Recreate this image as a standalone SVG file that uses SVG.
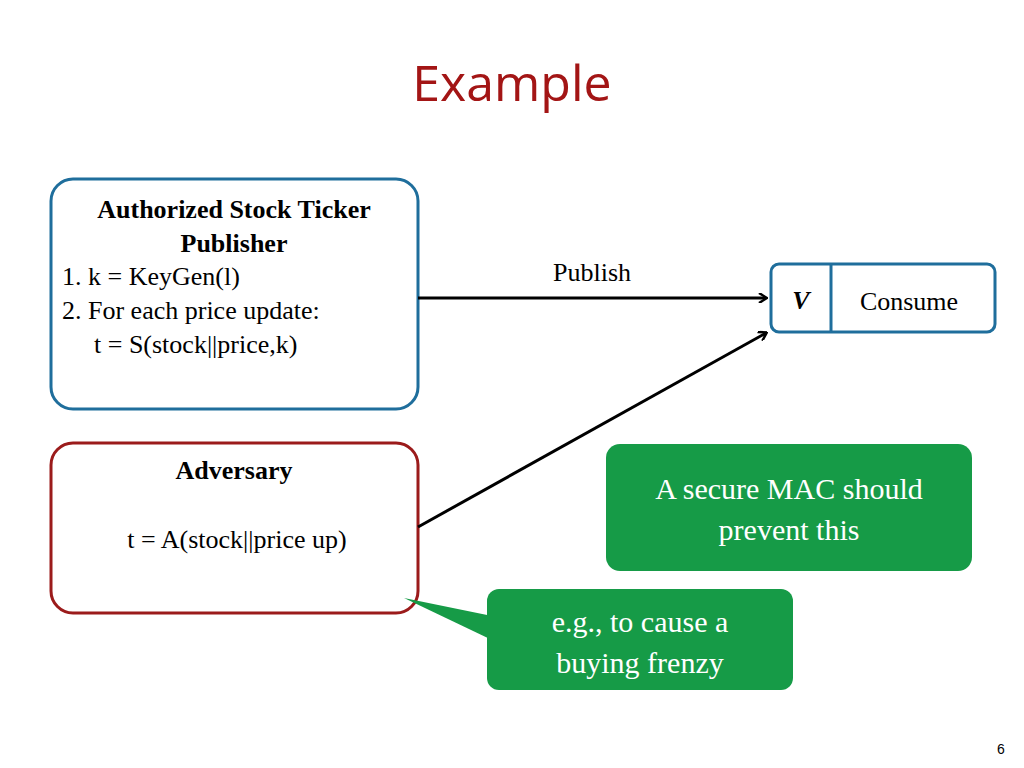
<svg xmlns="http://www.w3.org/2000/svg" width="1024" height="768" viewBox="0 0 1024 768">
<style>
.t{font-family:"Liberation Serif","DejaVu Serif",serif;font-size:26px;fill:#000}
.w{font-family:"Liberation Serif","DejaVu Serif",serif;font-size:30px;fill:#fff}
.b{font-weight:bold}
.c{stroke:#000;stroke-width:3;fill:none}
</style>
<defs><marker id="a" markerWidth="10" markerHeight="10" refX="8" refY="5" orient="auto" markerUnits="userSpaceOnUse"><path d="M1,0 L9,5 L1,10" fill="none" stroke="#000" stroke-width="2.5"/></marker></defs>
<rect width="1024" height="768" fill="#fff"/>
<text x="512" y="101" text-anchor="middle" font-family="Open Sans,Liberation Sans,sans-serif" font-size="50" fill="#a31515">Example</text>
<g id="publisher">
<rect x="51" y="179" width="367" height="230" rx="22" fill="#fff" stroke="#1f6e9c" stroke-width="3"/>
<text class="t b" x="234" y="218" text-anchor="middle">Authorized Stock Ticker</text>
<text class="t b" x="234" y="252" text-anchor="middle">Publisher</text>
<text class="t" x="62" y="285">1. k = KeyGen(l)</text>
<text class="t" x="62" y="319">2. For each price update:</text>
<text class="t" x="94" y="353">t = S(stock||price,k)</text>
</g>
<g id="adversary">
<rect x="51" y="443" width="367" height="170" rx="22" fill="#fff" stroke="#9b1b1b" stroke-width="3"/>
<text class="t b" x="234" y="479" text-anchor="middle">Adversary</text>
<text class="t" x="237" y="548" text-anchor="middle">t = A(stock||price up)</text>
</g>
<g id="verifier">
<rect x="771" y="264" width="224" height="68" rx="8" fill="#fff" stroke="#1f6e9c" stroke-width="3"/>
<line x1="831" y1="264" x2="831" y2="332" stroke="#1f6e9c" stroke-width="3"/>
<text class="t b" x="801" y="309" text-anchor="middle" font-style="italic">V</text>
<text class="t" x="909" y="310" text-anchor="middle" font-size="30">Consume</text>
</g>
<g id="connectors">
<line class="c" x1="418" y1="298" x2="766" y2="298" marker-end="url(#a)"/>
<line class="c" x1="418" y1="527" x2="766" y2="333" marker-end="url(#a)"/>
<text class="t" x="592" y="281" text-anchor="middle" font-size="30">Publish</text>
</g>
<g id="callout1">
<rect x="606" y="444" width="366" height="127" rx="14" fill="#169b47"/>
<text class="w" x="789" y="499" text-anchor="middle">A secure MAC should</text>
<text class="w" x="789" y="540" text-anchor="middle">prevent this</text>
</g>
<g id="callout2">
<path d="M404,598 L492,616 L492,640 Z" fill="#169b47"/>
<rect x="487" y="589" width="306" height="101" rx="12" fill="#169b47"/>
<text class="w" x="640" y="632" text-anchor="middle">e.g., to cause a</text>
<text class="w" x="640" y="673" text-anchor="middle">buying frenzy</text>
</g>
<text x="1001" y="754" text-anchor="middle" font-family="Liberation Sans,sans-serif" font-size="14">6</text>
</svg>
